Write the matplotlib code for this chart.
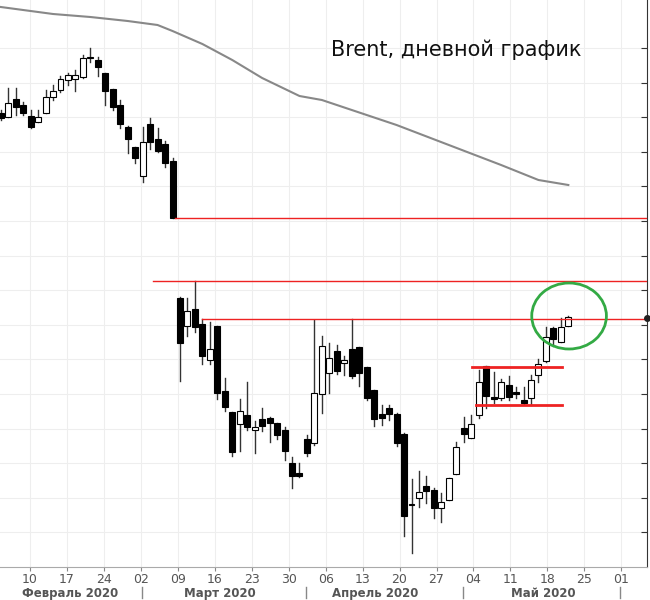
import numpy as np
import matplotlib
matplotlib.use("Agg")
import matplotlib.pyplot as plt
from matplotlib.patches import Ellipse, Rectangle
from matplotlib.transforms import blended_transform_factory

# price levels (screen units, larger = lower price)
opens = [113, 117, 99, 105, 116, 122, 113, 97, 90, 80, 79, 77, 57, 60, 73, 89, 105, 127, 147, 176, 124, 139, 144, 161,
         298, 326, 309, 324, 360, 326, 391, 412, 424, 415, 430, 419, 418, 423, 430, 463, 473, 439, 443, 394, 373, 351,
         363, 349, 347, 367, 390, 414, 408, 414, 434, 504, 498, 486, 490, 508, 500, 474, 428, 438, 415, 366, 397, 398,
         385, 392, 400, 398, 375, 361, 328, 342, 326]
closes = [118, 103, 107, 113, 127, 117, 97, 91, 79, 75, 75, 58, 57, 67, 91, 107, 124, 139, 158, 142, 142, 151, 163, 218,
          343, 311, 327, 356, 349, 393, 407, 452, 411, 427, 427, 426, 423, 435, 451, 476, 476, 453, 393, 346, 358, 371,
          360, 376, 373, 398, 419, 418, 414, 443, 516, 504, 492, 491, 508, 502, 478, 447, 434, 424, 382, 396, 399, 382,
          397, 394, 403, 380, 364, 337, 339, 327, 317]
highs = [110, 88, 88, 102, 110, 110, 90, 85, 76, 73, 70, 55, 48, 57, 73, 89, 100, 126, 147, 127, 118, 128, 141, 158,
         297, 298, 281, 319, 322, 326, 378, 412, 399, 382, 421, 408, 417, 423, 427, 457, 463, 435, 320, 336, 343, 345,
         356, 319, 347, 367, 390, 405, 405, 413, 433, 479, 471, 476, 488, 493, 478, 442, 417, 415, 370, 366, 372, 379,
         376, 387, 387, 375, 359, 327, 327, 318, 316]
lows = [120, 117, 115, 115, 128, 122, 113, 100, 92, 85, 91, 78, 62, 76, 105, 110, 128, 153, 163, 182, 149, 152, 167, 218,
        381, 336, 332, 364, 364, 399, 411, 456, 451, 430, 453, 431, 442, 439, 460, 488, 477, 456, 445, 413, 393, 374,
        375, 378, 386, 400, 426, 425, 420, 446, 536, 553, 507, 503, 518, 522, 500, 474, 442, 438, 418, 408, 403, 400,
        400, 398, 404, 405, 382, 362, 346, 342, 326]

# moving average (index, level)
ma_idx = [0, 4, 7, 12, 17, 21, 23, 27, 31, 35, 40, 43, 47, 53, 60, 67, 72, 76]
ma_val = [7, 11, 14, 17, 21, 25, 31, 44, 60, 78, 96, 100, 110, 125, 145, 165, 180, 185]

day_labels = ["10", "17", "24", "02", "09", "16", "23", "30", "06", "13", "20", "27", "04", "11", "18", "25", "01"]
months = ["Февраль 2020", "Март 2020", "Апрель 2020", "Май 2020"]
month_pos = [9.3, 29.4, 50.1, 72.6]
month_sep = [18.9, 40.9, 61.9, 82.9]

fig = plt.figure(figsize=(6.5, 6), dpi=100)
ax = fig.add_axes([0, 0.055, 0.995, 0.945])
ax.set_xlim(-0.1, 86.5)
ax.set_ylim(567, 0)

ax.set_facecolor("#ffffff")
for y in np.arange(48, 567, 34.6):
    ax.axhline(y, color="#eeeeee", lw=0.8, zorder=0)
ticks = 3.9 + 4.95 * np.arange(len(day_labels))
for t in ticks:
    ax.axvline(t, color="#eeeeee", lw=0.8, zorder=0)

ax.plot(ma_idx, ma_val, color="#888888", lw=1.5, zorder=2)

w = 0.8
for i in range(len(opens)):
    o, c, h, l = opens[i], closes[i], highs[i], lows[i]
    ax.plot([i, i], [h, l], color="#333333", lw=1, zorder=3)
    top, bot = min(o, c), max(o, c)
    fill = "black" if c > o else "white"
    ax.add_patch(Rectangle((i - w / 2, top), w, max(bot - top, 1), facecolor=fill,
                           edgecolor="black", lw=0.8, zorder=4))

# levels
ax.plot([23.3, 86.5], [218, 218], color="#ee2222", lw=1, zorder=5)
ax.plot([20.4, 86.5], [281, 281], color="#ee2222", lw=1, zorder=5)
ax.plot([27, 86.5], [319, 319], color="#ee2222", lw=1, zorder=5)
ax.plot([63.1, 75.1], [367, 367], color="#ee2222", lw=2, zorder=5)
ax.plot([63.6, 75.2], [405, 405], color="#ee2222", lw=2, zorder=5)
ax.add_patch(Ellipse((76.1, 316), 10.0, 66, fill=False, edgecolor="#33aa44", lw=2, zorder=6))
ax.plot([86.5], [318], marker="o", color="#222222", ms=4, clip_on=False, zorder=7)

ax.text(61, 50, "Brent, дневной график", fontsize=15, ha="center", va="center", color="#111111")

for s in ["top", "left"]:
    ax.spines[s].set_visible(False)
ax.spines["right"].set_color("#333333")
ax.spines["bottom"].set_color("#aaaaaa")
ax.yaxis.tick_right()
ax.set_yticks(np.arange(48, 567, 34.6))
ax.tick_params(axis="y", direction="in", length=4, labelright=False, color="#333333")
ax.set_xticks(ticks)
ax.set_xticklabels(day_labels)
ax.tick_params(axis="x", length=3, color="#888888", labelcolor="#555555", labelsize=9, pad=1.5)

tr = blended_transform_factory(ax.transData, ax.transAxes)
for name, x in zip(months, month_pos):
    ax.text(x, -0.047, name, transform=tr, ha="center", va="center", fontsize=8.5,
            fontweight="bold", color="#555555")
for x in month_sep:
    ax.plot([x, x], [-0.055, -0.035], transform=tr, color="#888888", lw=1, clip_on=False)

fig.savefig("out.png")
